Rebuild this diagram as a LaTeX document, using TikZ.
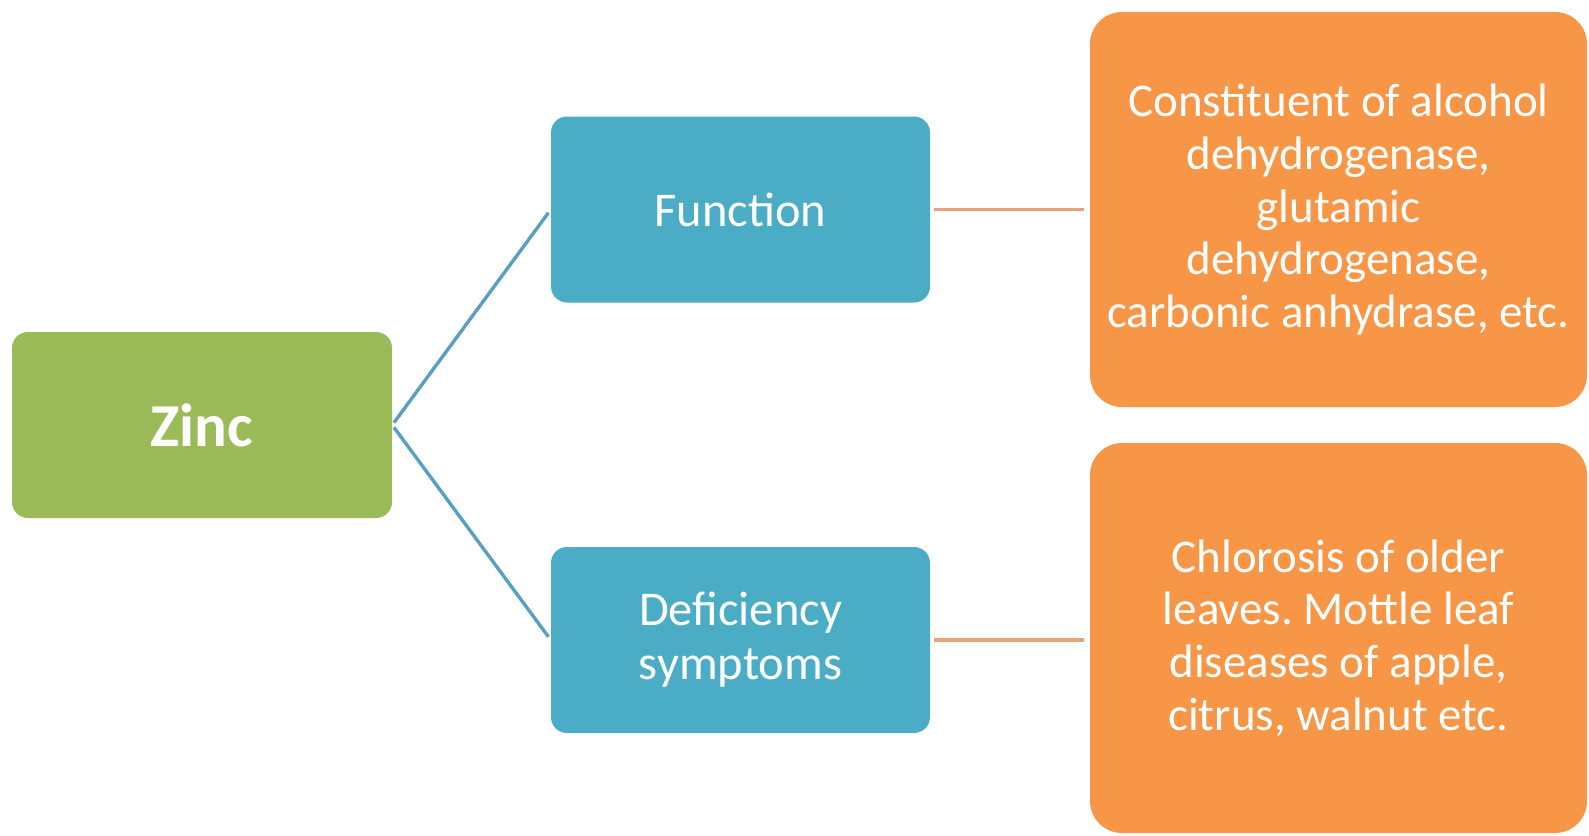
\documentclass[tikz,border=0pt]{standalone}
\usepackage{fontspec}
\setmainfont{Carlito}
\frenchspacing
\definecolor{zincgreen}{HTML}{9BBB59}
\definecolor{topicblue}{HTML}{4BACC6}
\definecolor{detailorange}{HTML}{F79646}
\definecolor{linkblue}{HTML}{5B9EC4}
\definecolor{linkorange}{HTML}{E6A379}
\begin{document}
\begin{tikzpicture}[x=1pt,y=-1pt,
  box/.style={rectangle, draw=none, text=white, align=center, inner sep=0pt},
  rootbox/.style={box, fill=zincgreen, rounded corners=16pt, minimum width=380pt, minimum height=186pt, font=\fontsize{61}{70}\selectfont\bfseries},
  topicbox/.style={box, fill=topicblue, rounded corners=16pt, minimum width=379pt, minimum height=186pt, font=\fontsize{48.5}{54}\selectfont},
  detailbox/.style={box, fill=detailorange, rounded corners=32pt, minimum width=497pt, font=\fontsize{47}{52.7}\selectfont},
  bluelink/.style={draw=linkblue, line width=3.4pt},
  orangelink/.style={draw=linkorange, line width=3.4pt}]
\useasboundingbox (0,0) rectangle (1589,835);
\fill[white] (0,0) rectangle (1589,835);

\node[rootbox] (zinc) at (202,425) {Zinc};
\node[topicbox] (func) at (740.5,209.5) {Function};
\node[topicbox] (defi) at (740.5,640) {Deficiency\\symptoms};
\node[detailbox, minimum height=395pt] (fdet) at (1338.5,209.5)
  {Constituent of alcohol\\dehydrogenase,\\glutamic\\dehydrogenase,\\carbonic anhydrase, etc.};
\node[detailbox, minimum height=390pt] (ddet) at (1338.5,638)
  {Chlorosis of older\\leaves. Mottle leaf\\diseases of apple,\\citrus, walnut etc.};

\draw[bluelink, shorten <=3pt, shorten >=4pt] (zinc.east) -- (func.west);
\draw[bluelink, shorten <=3pt, shorten >=4pt] (zinc.east) -- (defi.west);
\draw[orangelink, shorten <=4pt, shorten >=6pt] (func.east) -- (fdet.west |- func.east);
\draw[orangelink, shorten <=4pt, shorten >=6pt] (defi.east) -- (ddet.west |- defi.east);
\end{tikzpicture}
\end{document}
